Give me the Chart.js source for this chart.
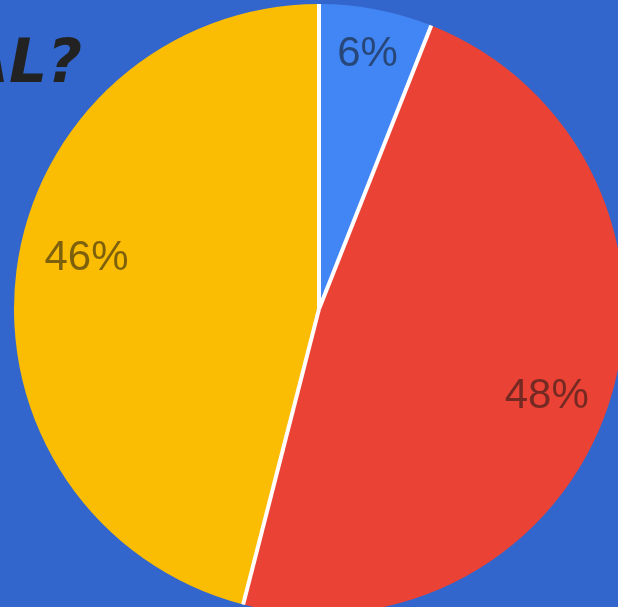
<!DOCTYPE html>
<html>
<head>
<meta charset="utf-8">
<script src="https://cdn.jsdelivr.net/npm/chart.js@4"></script>
<style>
  html, body { margin: 0; padding: 0; width: 618px; height: 607px; overflow: hidden; background: #3366cc; }
  #title { position: absolute; right: 536px; top: 26px; font-family: "DejaVu Sans", sans-serif; font-weight: bold; font-style: oblique; font-size: 60px; color: #222222; white-space: nowrap; z-index: 2; }
  #wrap { position: absolute; left: 14px; top: 4px; width: 610px; height: 610px; }
</style>
</head>
<body>
<div id="title">AL?</div>
<div id="wrap"><canvas id="pie"></canvas></div>
<script>
  const labels = ['A', 'B', 'C'];
  const values = [6, 48, 46];
  const sliceColors = ['#4285f4', '#ea4335', '#fbbc04'];
  const pctLabels = ['6%', '48%', '46%'];
  // label placement tweaks (fraction of radius, extra degrees)
  const labelRadius = [0.85, 0.8, 0.78];
  const labelTurn = [0, 3, 5];

  // white separators from centre to edge, no outer ring
  const separators = {
    id: 'separators',
    afterDatasetsDraw(chart) {
      const ctx = chart.ctx;
      const arcs = chart.getDatasetMeta(0).data;
      ctx.save();
      ctx.strokeStyle = '#ffffff';
      ctx.lineWidth = 4;
      arcs.forEach(a => {
        const r = a.outerRadius;
        ctx.beginPath();
        ctx.moveTo(a.x, a.y);
        ctx.lineTo(a.x + Math.cos(a.startAngle) * r, a.y + Math.sin(a.startAngle) * r);
        ctx.stroke();
      });
      ctx.restore();
    }
  };

  const pctText = {
    id: 'pctText',
    afterDatasetsDraw(chart) {
      const ctx = chart.ctx;
      const arcs = chart.getDatasetMeta(0).data;
      ctx.save();
      ctx.font = '42px "Liberation Sans", Arial, sans-serif';
      ctx.fillStyle = 'rgba(20, 20, 20, 0.55)';
      ctx.textAlign = 'center';
      ctx.textBaseline = 'middle';
      arcs.forEach((a, i) => {
        const mid = (a.startAngle + a.endAngle) / 2 + labelTurn[i] * Math.PI / 180;
        const r = a.outerRadius * labelRadius[i];
        ctx.fillText(pctLabels[i], a.x + Math.cos(mid) * r, a.y + Math.sin(mid) * r);
      });
      ctx.restore();
    }
  };

  new Chart(document.getElementById('pie'), {
    type: 'pie',
    data: {
      labels: labels,
      datasets: [{
        data: values,
        backgroundColor: sliceColors,
        borderWidth: 0
      }]
    },
    options: {
      responsive: true,
      maintainAspectRatio: false,
      animation: false,
      layout: { padding: 0 },
      plugins: {
        legend: { display: false },
        tooltip: { enabled: false }
      }
    },
    plugins: [separators, pctText]
  });
</script>
</body>
</html>
